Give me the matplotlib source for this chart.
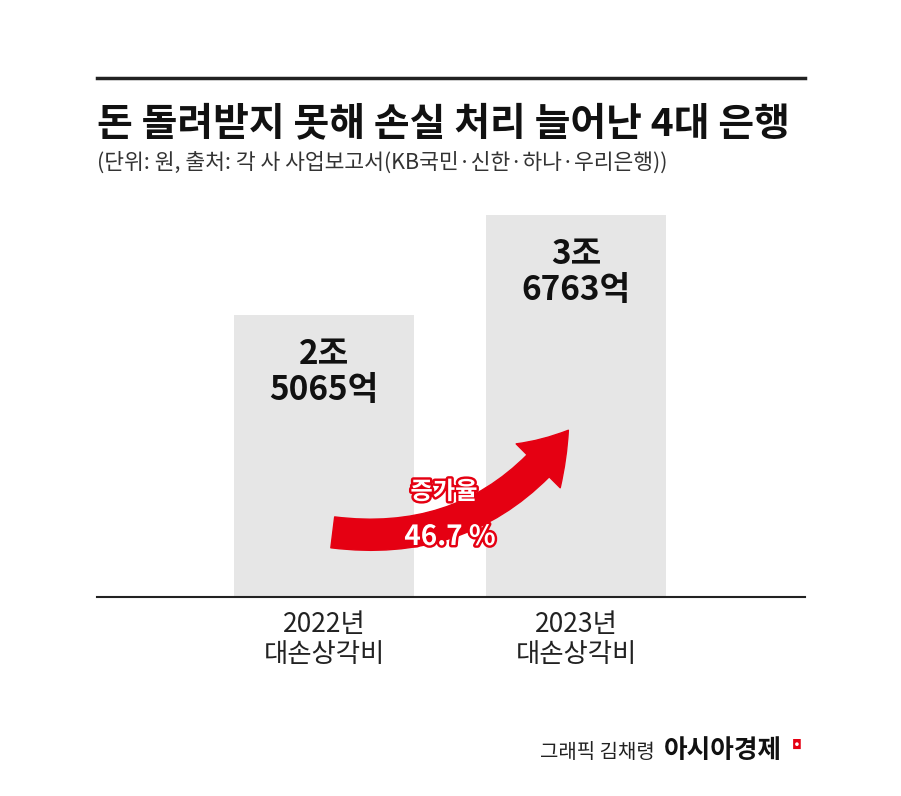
import matplotlib
matplotlib.use("Agg")
import matplotlib.pyplot as plt
from matplotlib.patches import FancyArrowPatch
import matplotlib.patheffects as pe

plt.rcParams['font.family'] = ['Noto Sans CJK KR', 'DejaVu Sans']

years = ["2022년\n대손상각비", "2023년\n대손상각비"]
values = [2.5065, 3.6763]  # 조 원
value_labels = ["2조\n5065억", "3조\n6763억"]
growth_label = "증가율"
growth_value = "46.7 %"

fig = plt.figure(figsize=(9.01, 7.96), dpi=100)
W, H = 901, 796
def fx(x): return x / W
def fy(y): return 1 - y / H

base = -0.79
ax = fig.add_axes([fx(97), fy(597), 708 / W, 382 / H])
xs = [0, 1]
ax.bar(xs, [v - base for v in values], bottom=base, width=0.714, color="#e6e6e6", zorder=1)
ax.set_xlim(-0.901, 1.909)
ax.set_ylim(base, values[1])
for s in ["top", "left", "right"]:
    ax.spines[s].set_visible(False)
ax.spines["bottom"].set_linewidth(1.5)
ax.spines["bottom"].set_color("#222222")
ax.set_yticks([])
ax.set_xticks(xs)
ax.set_xticklabels(years, fontsize=19, color="#222222", linespacing=1.15)
ax.tick_params(axis="x", length=0, pad=10)
for x, v, l in zip(xs, values, value_labels):
    ax.text(x, v - 0.27, l, ha="center", va="top", fontsize=24, fontweight="bold",
            color="#111111", linespacing=1.1)

arrow = FancyArrowPatch((fx(330), fy(532)), (fx(570), fy(428)), transform=fig.transFigure,
                        connectionstyle="arc3,rad=0.3",
                        arrowstyle="simple,head_width=3.2,head_length=2.4,tail_width=1.6",
                        mutation_scale=14, color="#e50012", zorder=5)
fig.patches.append(arrow)
red_outline = [pe.Stroke(linewidth=3.5, foreground="#e50012"), pe.Normal()]
fig.text(fx(444), fy(492), growth_label, ha="center", va="center", fontsize=17.5,
         fontweight="bold", color="white", zorder=6, path_effects=red_outline)
fig.text(fx(450), fy(537), growth_value, ha="center", va="center", fontsize=20,
         fontweight="bold", color="white", zorder=6, path_effects=red_outline)

fig.add_artist(plt.Line2D([fx(97), fx(805)], [fy(78), fy(78)], color="#222222", lw=2.5))
fig.text(fx(97), fy(124), "돈 돌려받지 못해 손실 처리 늘어난 4대 은행", ha="left", va="center",
         fontsize=28, fontweight="bold", color="#111111")
fig.text(fx(97), fy(163), "(단위: 원, 출처: 각 사 사업보고서(KB국민·신한·하나·우리은행))",
         ha="left", va="center", fontsize=15.5, color="#333333")

fig.text(fx(655), fy(752), "그래픽 김채령", ha="right", va="center", fontsize=14.4, color="#222222")
fig.text(fx(664), fy(751), "아시아경제", ha="left", va="center", fontsize=18.5,
         fontweight="bold", color="#111111")
fig.text(fx(792), fy(745), "◘", ha="left", va="center", fontsize=9, color="#e50012",
         family=['DejaVu Sans'])

fig.savefig("out.png", dpi=100, facecolor="white")
